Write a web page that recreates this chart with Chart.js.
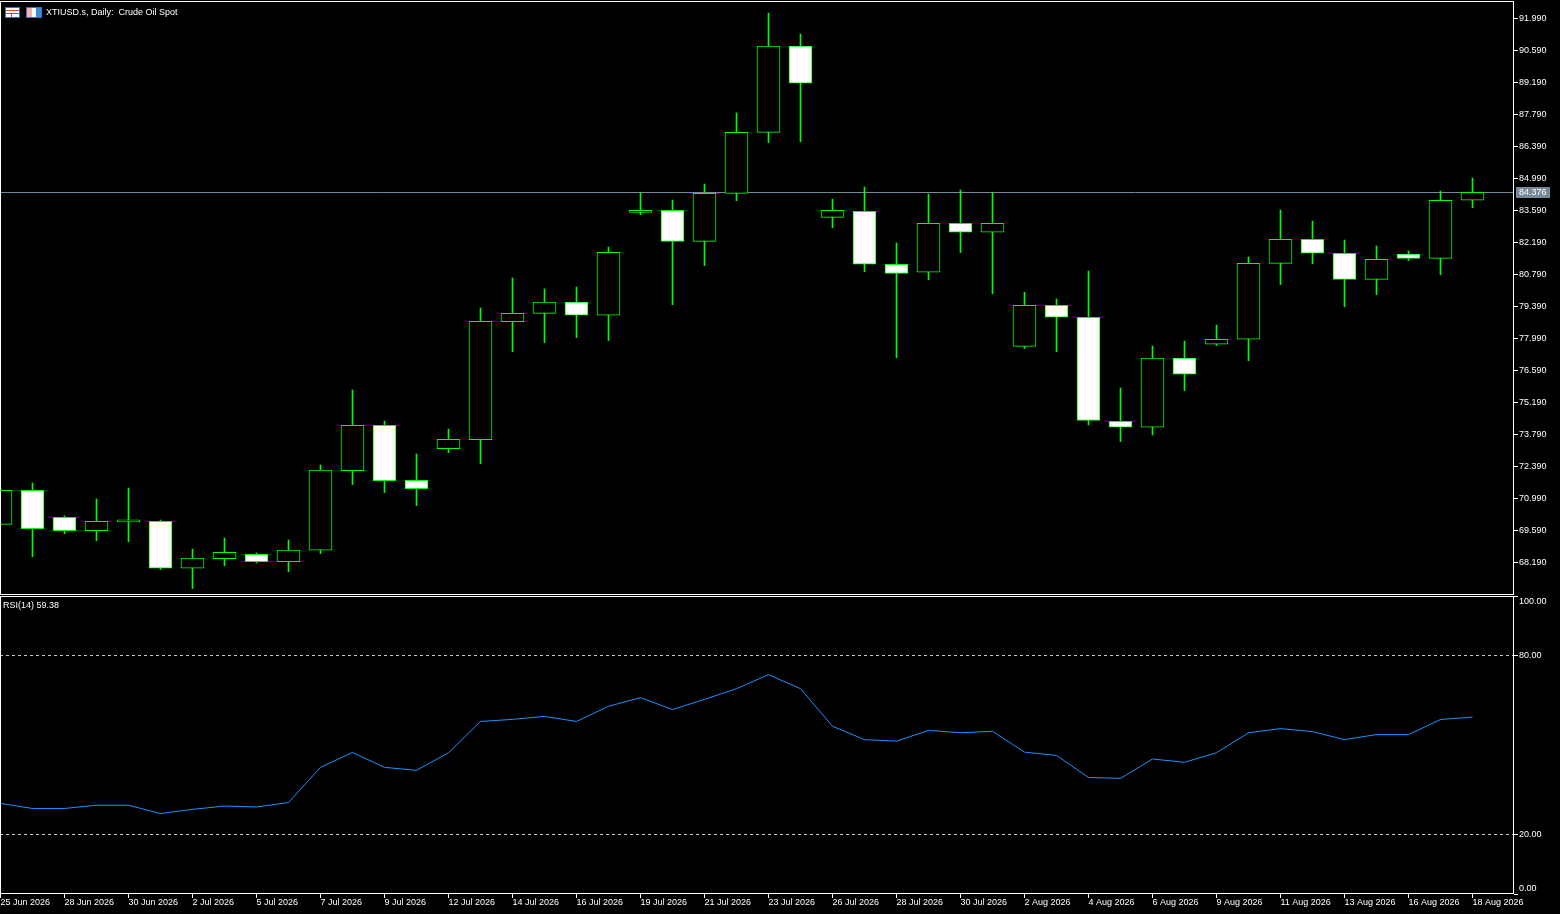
<!DOCTYPE html>
<html lang="en">
<head>
    <meta charset="UTF-8">
    <title>XTIUSD.s, Daily</title>
    <script src="https://cdn.jsdelivr.net/npm/chart.js"></script>
    <style>
        html, body { margin: 0; padding: 0; background: #000; overflow: hidden; }
        body { width: 1560px; height: 914px; position: relative; font-family: 'Liberation Sans', Arial, sans-serif; }
        #pricePane { position: absolute; left: 0; top: 0; width: 1560px; height: 595px; }
        #rsiPane { position: absolute; left: 0; top: 595px; width: 1560px; height: 319px; }
        .caption { position: absolute; color: #fff; font-size: 9px; line-height: 11px; white-space: pre; }
        #title { left: 46px; top: 7px; }
        #rsiTitle { left: 3px; top: 600px; }
        .ico { position: absolute; top: 7px; height: 9px; }
        #ico1 { left: 5px; width: 13px; border: 1px solid #3a6fc4; background: linear-gradient(90deg, #fff 0 5px, #d43 5px 6px, #fff 6px);
                box-shadow: inset 0 2px 0 #fff, inset 0 3px 0 #d43, inset 0 5px 0 #fff, inset 0 6px 0 #3a6fc4; }
        #ico2 { left: 26px; width: 14px; border: 1px solid #3a6fc4; background: linear-gradient(90deg, #f4b4a8 0 5px, #fff 5px 9px, #3a8fd8 9px); }
    </style>
</head>
<body>
    <div id="pricePane"><canvas id="priceChart"></canvas></div>
    <div id="rsiPane"><canvas id="rsiChart"></canvas></div>
    <span class="ico" id="ico1"></span><span class="ico" id="ico2"></span>
    <div class="caption" id="title">XTIUSD.s, Daily:  Crude Oil Spot</div>
    <div class="caption" id="rsiTitle">RSI(14) 59.38</div>
    <script>
        // daily bars
        const dates = ['25 Jun 2026', '26 Jun 2026', '28 Jun 2026', '29 Jun 2026', '30 Jun 2026', '1 Jul 2026', '2 Jul 2026', '3 Jul 2026',
            '5 Jul 2026', '6 Jul 2026', '7 Jul 2026', '8 Jul 2026', '9 Jul 2026', '10 Jul 2026',
            '12 Jul 2026', '13 Jul 2026', '14 Jul 2026', '15 Jul 2026', '16 Jul 2026', '17 Jul 2026',
            '19 Jul 2026', '20 Jul 2026', '21 Jul 2026', '22 Jul 2026', '23 Jul 2026', '24 Jul 2026',
            '26 Jul 2026', '27 Jul 2026', '28 Jul 2026', '29 Jul 2026', '30 Jul 2026', '31 Jul 2026',
            '2 Aug 2026', '3 Aug 2026', '4 Aug 2026', '5 Aug 2026', '6 Aug 2026', '7 Aug 2026',
            '9 Aug 2026', '10 Aug 2026', '11 Aug 2026', '12 Aug 2026', '13 Aug 2026', '14 Aug 2026',
            '16 Aug 2026', '17 Aug 2026', '18 Aug 2026'];
        const opens = [69.85, 71.34, 70.16, 69.57, 69.96, 69.98, 67.93, 68.35, 68.54, 68.22, 68.72, 72.20, 74.18, 71.78, 73.16, 73.55,
            78.72, 79.08, 79.57, 79.00, 83.50, 83.59, 82.23, 84.33, 87.00, 90.77, 83.28, 83.55, 81.23, 80.88, 83.02, 82.63,
            77.64, 79.43, 78.91, 74.36, 74.10, 77.12, 77.73, 77.95, 81.27, 82.32, 81.71, 80.57, 81.67, 81.49, 84.03];
        const highs = [71.45, 71.66, 70.22, 70.96, 71.44, 70.04, 68.77, 69.25, 68.60, 69.17, 72.45, 75.73, 74.37, 72.93, 74.02, 79.32,
            80.63, 80.15, 80.23, 81.98, 84.35, 84.04, 84.74, 87.85, 92.22, 91.30, 84.08, 84.61, 82.16, 84.30, 84.48, 84.36,
            80.00, 79.71, 80.93, 75.82, 77.65, 77.87, 78.57, 81.55, 83.60, 83.12, 82.29, 82.03, 81.81, 84.43, 85.00];
        const lows = [69.80, 68.43, 69.44, 69.13, 69.09, 67.87, 67.04, 68.04, 68.16, 67.78, 68.57, 71.59, 71.24, 70.67, 72.99, 72.50,
            77.40, 77.80, 78.02, 77.89, 83.40, 79.46, 81.17, 84.01, 86.55, 86.59, 82.83, 80.90, 77.14, 80.55, 81.74, 79.94,
            77.54, 77.40, 74.20, 73.47, 73.76, 75.70, 77.67, 77.01, 80.34, 81.25, 79.37, 79.90, 81.39, 80.77, 83.70];
        const closes = [71.34, 69.66, 69.57, 69.98, 69.98, 67.93, 68.37, 68.63, 68.22, 68.72, 72.22, 74.18, 71.76, 71.41, 73.57, 78.73,
            79.08, 79.57, 79.00, 81.75, 83.59, 82.23, 84.33, 87.00, 90.77, 89.15, 83.59, 81.23, 80.83, 83.02, 82.63, 83.02,
            79.43, 78.91, 74.40, 74.10, 77.12, 76.42, 77.95, 81.27, 82.32, 81.71, 80.57, 81.45, 81.49, 84.03, 84.376];
        const rsiValues = [30.4, 28.7, 28.7, 29.8, 29.8, 27.0, 28.4, 29.5, 29.2, 30.7, 42.5, 47.5, 42.5, 41.5, 47.4, 57.9,
            58.6, 59.6, 57.9, 63.0, 65.9, 61.9, 65.3, 68.9, 73.6, 68.9, 56.3, 51.8, 51.3, 54.9, 54.1, 54.6,
            47.6, 46.5, 39.1, 38.8, 45.3, 44.2, 47.4, 54.1, 55.5, 54.5, 51.8, 53.5, 53.5, 58.55, 59.38];
        const priceTicks = [91.99, 90.59, 89.19, 87.79, 86.39, 84.99, 83.59, 82.19, 80.79, 79.39, 77.99, 76.59, 75.19, 73.79, 72.39, 70.99, 69.59, 68.19];
        const rsiTicks = [0, 20, 80, 100];
        const rsiLevels = [20, 80];

        const GREEN = '#00ff00';
        const BID = '#778899';
        const axisWidth = 46;
        const barStep = 32; // px per day, like the terminal's zoom
        const xMin = -0.5 / barStep;
        const xMax = xMin + (1560 - axisWidth) / barStep;
        const font = { family: "'Liberation Sans', Arial, sans-serif", size: 9, lineHeight: 1 };

        Chart.defaults.animation = false;
        Chart.defaults.color = '#fff';

        // pin axis sizes so both panes share one x mapping
        function fixWidth(s) { s.width = axisWidth; s.paddingTop = 0; s.paddingBottom = 0; }
        function fixHeight(s) { s.height = 20; s.paddingLeft = 0; s.paddingRight = 0; }

        const framePlugin = {
            id: 'frame',
            afterDraw(chart) {
                const { ctx, chartArea: a } = chart;
                ctx.save();
                ctx.strokeStyle = '#fff';
                ctx.lineWidth = 1;
                ctx.strokeRect(a.left + 0.5, a.top + 0.5, a.right - a.left - 1, a.bottom - a.top - 1);
                ctx.restore();
            }
        };

        const bidPlugin = {
            id: 'bid',
            beforeDatasetsDraw(chart) {
                const { ctx, chartArea: a } = chart;
                const y = Math.round(chart.scales.y.getPixelForValue(closes[closes.length - 1])) + 0.5;
                ctx.save();
                ctx.strokeStyle = BID;
                ctx.lineWidth = 1;
                ctx.beginPath();
                ctx.moveTo(a.left, y);
                ctx.lineTo(a.right, y);
                ctx.stroke();
                ctx.restore();
            },
            afterDraw(chart) {
                const { ctx, chartArea: a } = chart;
                const last = closes[closes.length - 1];
                const y = Math.round(chart.scales.y.getPixelForValue(last));
                ctx.save();
                ctx.fillStyle = BID;
                ctx.fillRect(a.right + 2, y - 5, 34, 11);
                ctx.fillStyle = '#fff';
                ctx.font = "9px 'Liberation Sans', Arial, sans-serif";
                ctx.textBaseline = 'middle';
                ctx.fillText(last.toFixed(3), a.right + 5, y + 0.5);
                ctx.restore();
            }
        };

        function renderPrice() {
            const idx = dates.map((d, i) => i);
            new Chart(document.getElementById('priceChart'), {
                type: 'bar',
                data: {
                    datasets: [{
                        label: 'body',
                        data: idx.map(i => ({ x: i, y: [opens[i], closes[i]] })),
                        backgroundColor: c => closes[c.dataIndex] >= opens[c.dataIndex] ? '#000' : '#fff',
                        borderColor: GREEN,
                        borderWidth: 1,
                        borderSkipped: false,
                        barThickness: 23,
                        minBarLength: 2,
                        grouped: false,
                        order: 0
                    }, {
                        label: 'wick',
                        data: idx.map(i => ({ x: i, y: [lows[i], highs[i]] })),
                        backgroundColor: GREEN,
                        borderWidth: 0,
                        barThickness: 1,
                        grouped: false,
                        order: 1
                    }]
                },
                options: {
                    responsive: true,
                    maintainAspectRatio: false,
                    layout: { padding: { top: 1, left: 0, right: 0, bottom: 0 } },
                    plugins: { legend: { display: false }, tooltip: { enabled: false } },
                    scales: {
                        x: { type: 'linear', min: xMin, max: xMax, offset: false, display: false },
                        y: {
                            position: 'right',
                            min: 66.759,
                            max: 92.747,
                            afterBuildTicks: s => { s.ticks = priceTicks.map(v => ({ value: v })); },
                            afterFit: fixWidth,
                            border: { display: false },
                            grid: { drawOnChartArea: false, drawTicks: true, tickLength: 4, tickColor: '#fff', color: '#fff' },
                            ticks: { font, color: '#fff', padding: 1, callback: v => v.toFixed(3) }
                        }
                    }
                },
                plugins: [bidPlugin, framePlugin]
            });
        }

        function renderRsi() {
            new Chart(document.getElementById('rsiChart'), {
                type: 'line',
                data: {
                    datasets: [{
                        label: 'RSI(14)',
                        data: rsiValues.map((v, i) => ({ x: i, y: v })),
                        borderColor: '#1e90ff',
                        borderWidth: 1,
                        pointRadius: 0,
                        tension: 0
                    }]
                },
                options: {
                    responsive: true,
                    maintainAspectRatio: false,
                    layout: { padding: { top: 1, left: 0, right: 0, bottom: 0 } },
                    plugins: { legend: { display: false }, tooltip: { enabled: false } },
                    scales: {
                        x: {
                            type: 'linear',
                            min: xMin,
                            max: xMax,
                            offset: false,
                            afterBuildTicks: s => { s.ticks = dates.map((d, i) => i).filter(i => i % 2 === 0).map(v => ({ value: v })); },
                            afterFit: fixHeight,
                            border: { display: false },
                            grid: { drawOnChartArea: false, drawTicks: true, tickLength: 4, tickColor: '#fff', color: '#fff' },
                            ticks: { font, color: '#fff', padding: 0, align: 'start', autoSkip: false, maxRotation: 0, minRotation: 0,
                                callback: v => dates[v] }
                        },
                        y: {
                            position: 'right',
                            min: 0,
                            max: 100,
                            afterBuildTicks: s => { s.ticks = rsiTicks.map(v => ({ value: v })); },
                            afterFit: fixWidth,
                            border: { display: false, dash: [3, 3] },
                            grid: {
                                drawTicks: true,
                                tickLength: 4,
                                tickColor: '#fff',
                                color: c => rsiLevels.includes(c.tick && c.tick.value) ? '#c8c8c8' : 'rgba(0,0,0,0)'
                            },
                            ticks: {
                                font: { family: font.family, size: 9, lineHeight: 1.2 },
                                color: '#fff',
                                padding: 1,
                                callback: v => v === 100 ? ['', '100.00'] : v === 0 ? ['0.00', ''] : v.toFixed(2)
                            }
                        }
                    }
                },
                plugins: [framePlugin]
            });
        }

        renderPrice();
        renderRsi();
    </script>
</body>
</html>
